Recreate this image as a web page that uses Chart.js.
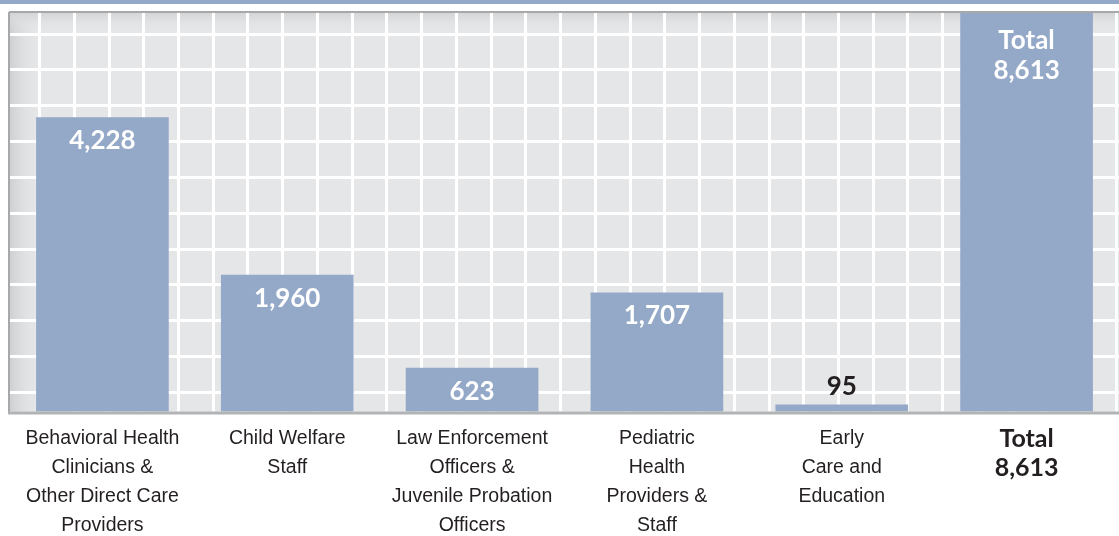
<!DOCTYPE html>
<html>
<head>
<meta charset="utf-8">
<script src="https://cdn.jsdelivr.net/npm/chart.js@4"></script>
<style>
  body { margin: 0; background: #fff; }
  .band { position: absolute; left: 0; top: 0; width: 1119px; height: 4px; background: #94a8c8; }
  canvas { position: absolute; left: 0; top: 0; }
</style>
</head>
<body>
<div class="band"></div>
<canvas id="workforceChart" width="1119" height="536"></canvas>
<script>
// workforce counts by sector
const categories = [
    ['Behavioral Health', 'Clinicians &', 'Other Direct Care', 'Providers'],
    ['Child Welfare', 'Staff'],
    ['Law Enforcement', 'Officers &', 'Juvenile Probation', 'Officers'],
    ['Pediatric', 'Health', 'Providers &', 'Staff'],
    ['Early', 'Care and', 'Education'],
    ['Total', '8,613']
];
const counts = [4228, 1960, 623, 1707, 95, 8613];

const barColor = '#94a8c8';
const textColor = '#231f20';

// plot background with shaded left/top edges
const backdrop = {
    id: 'backdrop',
    beforeDraw(chart) {
        const { ctx, chartArea: a } = chart;
        ctx.save();
        ctx.fillStyle = '#e5e6e8';
        ctx.fillRect(a.left, a.top, a.right - a.left, a.bottom - a.top);
        let g = ctx.createLinearGradient(a.left, 0, a.left + 30, 0);
        g.addColorStop(0, '#cfd0d2');
        g.addColorStop(1, 'rgba(229,230,232,0)');
        ctx.fillStyle = g;
        ctx.fillRect(a.left, a.top, 30, a.bottom - a.top);
        g = ctx.createLinearGradient(0, a.top, 0, a.top + 18);
        g.addColorStop(0, '#d4d5d7');
        g.addColorStop(1, 'rgba(229,230,232,0)');
        ctx.fillStyle = g;
        ctx.fillRect(a.left, a.top, a.right - a.left, 18);
        ctx.restore();
    },
    afterDatasetsDraw(chart) {
        const { ctx, chartArea: a } = chart;
        ctx.save();
        ctx.strokeStyle = '#a7a8aa';
        ctx.lineWidth = 2;
        ctx.beginPath();
        ctx.moveTo(a.left - 1, a.top - 1);
        ctx.lineTo(a.right, a.top - 1);
        ctx.moveTo(a.left - 1, a.top - 1);
        ctx.lineTo(a.left - 1, a.bottom + 2);
        ctx.stroke();
        ctx.strokeStyle = '#b2b3b5';
        ctx.lineWidth = 3;
        ctx.beginPath();
        ctx.moveTo(a.left - 2, a.bottom + 1.5);
        ctx.lineTo(a.right, a.bottom + 1.5);
        ctx.stroke();
        ctx.restore();
    }
};

const valueLabels = {
    id: 'valueLabels',
    afterDatasetsDraw(chart) {
        const { ctx, chartArea } = chart;
        const yMax = chart.scales.y.max;
        ctx.save();
        ctx.textAlign = 'center';
        ctx.textBaseline = 'middle';
        ctx.font = '700 26px Lato';
        chart.getDatasetMeta(0).data.forEach((bar, i) => {
            const txt = counts[i].toLocaleString('en-US');
            if (counts[i] > yMax) {
                ctx.fillStyle = '#fff';
                ctx.fillText('Total', bar.x, chartArea.top + 28);
                ctx.fillText(txt, bar.x, chartArea.top + 58);
            } else if (bar.base - bar.y < 25) {
                ctx.fillStyle = textColor;
                ctx.fillText(txt, bar.x, bar.y - 18);
            } else {
                ctx.fillStyle = '#fff';
                ctx.fillText(txt, bar.x, bar.y + 23);
            }
        });
        ctx.restore();
    }
};

// grid lines on whole units of the helper axes
function wholeTicks(axis) {
    const ticks = [];
    for (let v = Math.ceil(axis.min); v <= axis.max; v++) ticks.push({ value: v });
    axis.ticks = ticks;
}

new Chart(document.getElementById('workforceChart'), {
    type: 'bar',
    data: {
        labels: categories,
        datasets: [{
            data: counts,
            backgroundColor: barColor,
            borderWidth: 0,
            barThickness: 132
        }]
    },
    options: {
        responsive: false,
        animation: false,
        layout: { padding: { left: 10, right: 0, top: 13, bottom: -16.5 } },
        plugins: { legend: { display: false }, tooltip: { enabled: false } },
        scales: {
            x: {
                grid: { display: false, drawTicks: false },
                border: { display: false },
                ticks: {
                    padding: 12.5,
                    maxRotation: 0,
                    autoSkip: false,
                    color: textColor,
                    font: ctx => ctx.index === counts.length - 1
                        ? { family: 'Lato', weight: '700', size: 25, lineHeight: '29px' }
                        : { family: "'Liberation Sans Narrow', 'Liberation Sans', sans-serif", size: 19.5, lineHeight: '29px' }
                }
            },
            y: {
                display: false,
                min: 0,
                max: 5730
            },
            // decorative grid
            xg: {
                type: 'linear',
                position: 'bottom',
                bounds: 'data',
                min: -0.836,
                max: 30.06,
                afterBuildTicks: wholeTicks,
                ticks: { display: false },
                grid: { color: '#ffffff', lineWidth: 3, drawTicks: false },
                border: { display: false }
            },
            yg: {
                type: 'linear',
                position: 'left',
                bounds: 'data',
                min: -0.531,
                max: 10.586,
                afterBuildTicks: wholeTicks,
                ticks: { display: false },
                grid: { color: '#ffffff', lineWidth: 3, drawTicks: false },
                border: { display: false }
            }
        }
    },
    plugins: [backdrop, valueLabels]
});
</script>
</body>
</html>
